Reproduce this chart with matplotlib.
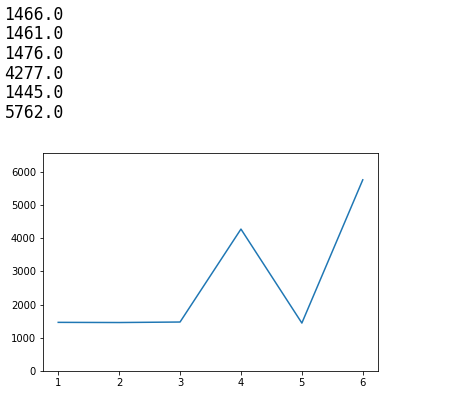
import matplotlib
matplotlib.use("Agg")
import matplotlib.pyplot as plt

# values printed above the chart and plotted
x_vals = [1, 2, 3, 4, 5, 6]
y_vals = [1466.0, 1461.0, 1476.0, 4277.0, 1445.0, 5762.0]

fig = plt.figure(figsize=(451 / 72, 411 / 72), dpi=72)

# printed output lines
for i, v in enumerate(y_vals):
    fig.text(4.5 / 451, 1 - (19.5 + i * 19.7) / 411, str(v),
             family="DejaVu Sans Mono", fontsize=16.5, va="baseline", ha="left")

ax = fig.add_axes([43 / 451, 40 / 411, 335 / 451, 218 / 411])
ax.plot(x_vals, y_vals)
ax.set_ylim(0, 6570)

fig.savefig("out.png", dpi=72)
